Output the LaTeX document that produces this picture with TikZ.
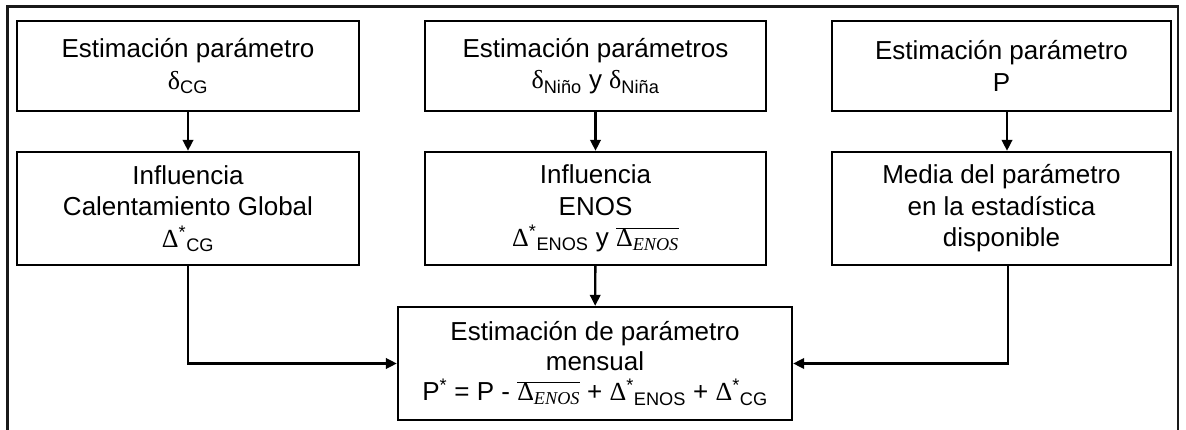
\documentclass[tikz,border=0pt]{standalone}
\usepackage{fontspec}
\setmainfont{Liberation Sans}
\newfontfamily\serif{Liberation Serif}
\usetikzlibrary{arrows.meta}
\newcommand{\dstar}{{\serif Δ}\textsuperscript{*}}
\newcommand{\dbar}{$\overline{\hbox{{\serif Δ}\textsubscript{\serif\itshape ENOS}}}$}
\tikzset{
  box/.style={draw, line width=2.4pt, inner sep=0pt, align=center,
    font=\fontsize{26}{31.5}\selectfont},
  topbox/.style={box, minimum height=90pt},
  midbox/.style={box, minimum height=113pt},
  conn/.style={line width=2.4pt, -{Triangle[length=11pt,width=10.5pt]}},
  frame/.style={line width=2.3pt, black!90}
}
\begin{document}
\begin{tikzpicture}[x=1pt,y=-1pt]
\useasboundingbox (0,0) rectangle (1186,430);
\clip (0,0) rectangle (1186,430);
\draw[frame] (7.5,440) |- (1178,6.5) -- (1178,440);

\node[topbox, minimum width=342pt] (b1) at (188,66)
  {Estimación parámetro\\{\serif δ}\textsubscript{CG}};
\node[topbox, minimum width=341pt] (b2) at (595.5,66)
  {Estimación parámetros\\{\serif δ}\textsubscript{Niño} y {\serif δ}\textsubscript{Niña}};
\node[topbox, minimum width=339pt] (b3) at (1001.5,66)
  {Estimación parámetro\\P};

\node[midbox, minimum width=342pt] (b4) at (188,208.5)
  {Influencia\\Calentamiento Global\\\dstar\textsubscript{CG}};
\node[midbox, minimum width=341pt] (b5) at (595.5,208.5)
  {Influencia\\ENOS\\\dstar\textsubscript{ENOS} y \dbar};
\node[midbox, minimum width=339pt] (b6) at (1001.5,208.5)
  {Media del parámetro\\en la estadística\\disponible};

\node[midbox, minimum width=394pt, font=\fontsize{26}{30}\selectfont] (b7) at (595,363.5)
  {Estimación de parámetro\\mensual\\P\textsuperscript{*} = P - \dbar{} + \dstar\textsubscript{ENOS} + \dstar\textsubscript{CG}};

\draw[conn] (b1) -- (b4);
\draw[conn] (b2) -- (b5);
\draw[conn] ([xshift=5.5pt]b3.south) -- ([xshift=5.5pt]b6.north);
\draw[conn] (b5) -- (b7);
\draw[conn] (b4.south) |- (b7.west);
\draw[conn] ([xshift=6.5pt]b6.south) |- (b7.east);
\end{tikzpicture}
\end{document}
